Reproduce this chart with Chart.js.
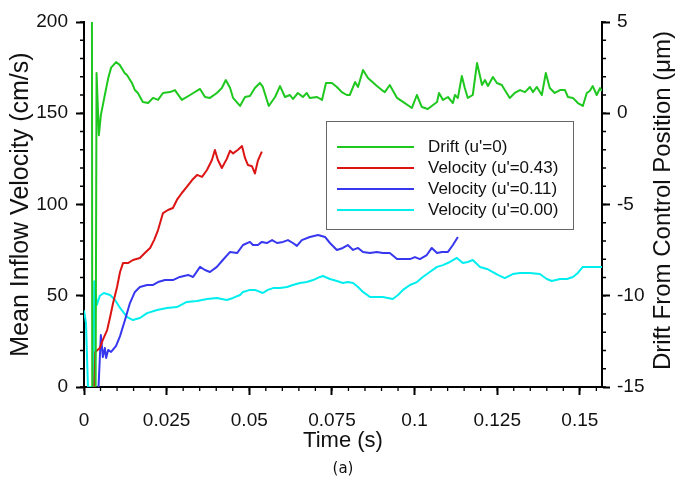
<!DOCTYPE html>
<html>
<head>
<meta charset="utf-8">
<script src="https://cdn.jsdelivr.net/npm/chart.js@4.4.1/dist/chart.umd.min.js"></script>
<style>
  body { margin: 0; background: #fff; }
  #wrap { width: 681px; height: 477px; }
</style>
</head>
<body>
<div id="wrap"><canvas id="myChart" width="681" height="477"></canvas></div>
<script>

// drift of the control position (right axis, um)
let driftTime=[0.0024,0.0025,0.0035,0.0038,0.0045,0.0051,0.0063,0.0073,0.0082,0.0097,0.0108,0.0123,0.0130,0.0145,0.0154,0.0163,0.0178,0.0194,0.0209,0.0224,0.0239,0.0260,0.0275,0.0296,0.0321,0.0351,0.0366,0.0381,0.0402,0.0417,0.0429,0.0442,0.0451,0.0472,0.0487,0.0502,0.0517,0.0532,0.0541,0.0559,0.0578,0.0593,0.0608,0.0623,0.0632,0.0647,0.0662,0.0674,0.0683,0.0705,0.0720,0.0732,0.0750,0.0765,0.0780,0.0795,0.0804,0.0820,0.0829,0.0844,0.0859,0.0886,0.0901,0.0910,0.0925,0.0947,0.0965,0.0992,0.1007,0.1022,0.1040,0.1068,0.1074,0.1086,0.1101,0.1116,0.1122,0.1131,0.1143,0.1152,0.1161,0.1176,0.1189,0.1204,0.1213,0.1222,0.1237,0.1249,0.1264,0.1273,0.1288,0.1303,0.1319,0.1334,0.1349,0.1358,0.1370,0.1385,0.1397,0.1409,0.1424,0.1440,0.1455,0.1464,0.1479,0.1494,0.1509,0.1521,0.1530,0.1539,0.1551,0.1561,0.1567];
let driftVals=[6,-16,-16,2.2,-1.2,-0.1,1.0,1.9,2.5,2.8,2.65,2.2,2.1,1.66,1.27,1.11,0.62,0.56,0.84,0.73,1.11,1.16,1.27,0.73,1.0,1.33,0.89,0.84,1.11,1.38,1.82,1.38,0.84,0.4,0.89,0.95,1.38,1.66,1.44,0.4,0.89,1.49,0.89,1.0,0.78,1.11,0.89,1.11,0.84,0.89,0.73,1.66,1.66,1.44,1.16,1.0,1.0,1.71,1.44,2.37,1.93,1.49,1.27,1.16,1.55,0.84,0.62,0.29,1.0,0.34,0.23,0.62,1.11,0.73,0.89,0.56,1.0,0.84,2.04,1.38,0.84,1.0,2.75,1.55,1.82,1.49,1.99,1.66,1.55,1.27,0.84,1.11,1.27,1.16,1.44,1.16,1.44,1.0,2.21,1.38,1.11,1.27,1.27,0.89,0.84,0.56,0.4,1.11,1.22,1.49,1.0,1.38,1.22];

// velocity u'=0.43
let redTime=[0.0031,0.0034,0.0048,0.0057,0.0070,0.0079,0.0088,0.0100,0.0109,0.0118,0.0133,0.0148,0.0169,0.0184,0.0200,0.0212,0.0224,0.0239,0.0254,0.0269,0.0281,0.0296,0.0311,0.0327,0.0342,0.0357,0.0372,0.0387,0.0396,0.0405,0.0417,0.0432,0.0442,0.0451,0.0466,0.0478,0.0487,0.0496,0.0508,0.0517,0.0526,0.0538];
let redVals=[0,19.2,21.4,25.8,31.2,38.4,46,54.8,63,67.9,67.9,69.6,70.7,73.4,76.2,80.5,86,95.3,97,98.1,102.5,106.3,109.6,113.4,116.2,115.1,118.9,124.4,129.9,124.4,120,125,129.5,128,130,132,125.5,121.6,121,117,124,129];

// velocity u'=0.11
let blueTime=[0.0044,0.0048,0.0051,0.0057,0.0063,0.0067,0.0073,0.0082,0.0097,0.0109,0.0124,0.0139,0.0154,0.0169,0.0191,0.0209,0.0224,0.0245,0.0269,0.0290,0.0315,0.0330,0.0351,0.0366,0.0381,0.0402,0.0420,0.0442,0.0463,0.0481,0.0502,0.0511,0.0526,0.0538,0.0553,0.0569,0.0584,0.0602,0.0617,0.0632,0.0644,0.0659,0.0683,0.0708,0.0729,0.0744,0.0765,0.0783,0.0798,0.0814,0.0829,0.0844,0.0865,0.0886,0.0904,0.0925,0.0947,0.0965,0.0986,0.1001,0.1016,0.1037,0.1052,0.1068,0.1083,0.1101,0.1116,0.1131];
let blueVals=[0,16.4,28.5,16.4,21.4,15.9,20.3,19.2,22.5,27.9,36.7,46,52.1,54.8,55.9,55.9,57.5,58.6,58.6,60.3,61.4,60.3,65.8,64.1,63,65.8,69.6,74,73.4,77.8,79.5,77.8,77.8,79.5,78.9,80.5,78.9,79.5,80.5,78.9,77.3,80.5,82.2,83.3,82.2,78.9,75.1,76.2,77.8,75.1,76.2,74,73.4,74,73.4,73.4,70.1,70.1,70.1,71.2,70.1,72.3,76.2,73.4,74,74,77.8,82.2];

// velocity u'=0.00
let cyanTime=[0,0.0006,0.0012,0.0029,0.0031,0.0039,0.0048,0.0060,0.0079,0.0094,0.0109,0.0130,0.0148,0.0169,0.0191,0.0221,0.0251,0.0281,0.0311,0.0342,0.0372,0.0402,0.0432,0.0451,0.0472,0.0481,0.0502,0.0517,0.0541,0.0556,0.0572,0.0593,0.0614,0.0632,0.0653,0.0674,0.0693,0.0714,0.0723,0.0744,0.0765,0.0783,0.0798,0.0814,0.0829,0.0844,0.0865,0.0886,0.0904,0.0919,0.0934,0.0950,0.0965,0.0986,0.1007,0.1025,0.1046,0.1068,0.1086,0.1107,0.1128,0.1146,0.1161,0.1176,0.1198,0.1219,0.1237,0.1252,0.1273,0.1297,0.1319,0.1349,0.1379,0.1400,0.1415,0.1440,0.1461,0.1479,0.1494,0.1509,0.1530,0.1545,0.1567];
let cyanVals=[42,35,0,0,58,45,50,51.5,50.4,47.7,43.3,38.4,36.7,37.8,40.5,42.2,43.3,43.8,46.6,47.1,48.2,48.8,47.7,48.8,50.4,52.1,53.2,53.2,51.5,53.2,54.2,54.2,54.8,55.9,57,57.5,58.6,60.3,60.8,59.2,58.1,57,57.5,57,54.8,52.1,49.3,49.3,49.3,48.8,48.2,50.4,53.2,55.9,57.5,60.3,63,65.8,66.8,68.5,70.7,67.9,68.5,69.6,65.8,64.7,63,61.4,59.7,61.9,62.5,62.5,61.9,59.2,58.1,59.2,59.2,60.3,62.5,65.8,65.8,65.8,65.8];

let seriesLabels=["Drift (u'=0)","Velocity (u'=0.43)","Velocity (u'=0.11)","Velocity (u'=0.00)"];

let xTicks=[0,0.025,0.05,0.075,0.1,0.125,0.15];
let leftTicks=[0,50,100,150,200];
let rightTicks=[-15,-10,-5,0,5];

function pts(times,vals){
  let out=[];
  for(let i=0;i<Math.min(times.length,vals.length);i++){
    out.push({x:times[i],y:vals[i]});
  }
  return out;
}

const FONT="'Liberation Sans', Arial, Helvetica, sans-serif";

// minor ticks drawn outside the axes
const minorTicks={
  id:'minorTicks',
  afterDraw(chart){
    const c=chart.ctx;
    const x=chart.scales.x, yl=chart.scales.y, yr=chart.scales.y2;
    c.save();
    c.strokeStyle='#000';
    c.lineWidth=1.3;
    c.beginPath();
    for(let v=0;v<=0.1567;v+=0.005){
      let px=x.getPixelForValue(v);
      c.moveTo(px,x.top); c.lineTo(px,x.top+4);
    }
    for(let v=0;v<=200;v+=10){
      let py=yl.getPixelForValue(v);
      c.moveTo(yl.right,py); c.lineTo(yl.right-4,py);
    }
    for(let v=-15;v<=5;v+=1){
      let py=yr.getPixelForValue(v);
      c.moveTo(yr.left,py); c.lineTo(yr.left+4,py);
    }
    c.stroke();
    c.restore();
  }
};

// boxed legend inside the plot, right axis title (reads upward) and the "(a)" caption
const boxLegend={
  id:'boxLegend',
  afterDraw(chart){
    const c=chart.ctx;
    const a=chart.chartArea;
    const bx=a.left+242, by=a.top+99, bw=247, bh=108;
    c.save();
    c.fillStyle='#fff';
    c.fillRect(bx,by,bw,bh);
    c.strokeStyle='#666';
    c.lineWidth=1;
    c.strokeRect(bx+0.5,by+0.5,bw,bh);
    c.font="17px "+FONT;
    c.textBaseline='middle';
    chart.data.datasets.forEach((ds,i)=>{
      let yy=by+26+i*21;
      c.strokeStyle=ds.borderColor;
      c.lineWidth=2;
      c.beginPath();
      c.moveTo(bx+11,yy); c.lineTo(bx+88,yy);
      c.stroke();
      c.fillStyle='#111';
      c.fillText(ds.label,bx+102,yy);
    });

    const yr=chart.scales.y2;
    c.save();
    c.translate(yr.right-18,(a.top+a.bottom)/2-4);
    c.rotate(-Math.PI/2);
    c.font="24px "+FONT;
    c.textAlign='center';
    c.fillStyle='#111';
    c.fillText('Drift From Control Position (\u03bcm)',0,0);
    c.restore();

    c.font="15px 'DejaVu Sans', sans-serif";
    c.textAlign='center';
    c.fillStyle='#111';
    c.fillText('(a)',(a.left+a.right)/2,469);
    c.restore();
  }
};

const ctx=document.getElementById('myChart');

new Chart(ctx,{
  type:'line',
  data:{
    datasets:[
      {label:seriesLabels[0],data:pts(driftTime,driftVals),borderColor:'rgb(30,200,30)',yAxisID:'y2'},
      {label:seriesLabels[1],data:pts(redTime,redVals),borderColor:'rgb(220,20,20)',yAxisID:'y'},
      {label:seriesLabels[2],data:pts(blueTime,blueVals),borderColor:'rgb(55,55,240)',yAxisID:'y'},
      {label:seriesLabels[3],data:pts(cyanTime,cyanVals),borderColor:'rgb(0,238,238)',yAxisID:'y'}
    ]
  },
  options:{
    responsive:false,
    animation:false,
    layout:{padding:{top:22,left:0,right:0,bottom:0}},
    elements:{
      point:{radius:0},
      line:{borderWidth:2,tension:0,borderJoinStyle:'round',fill:false}
    },
    plugins:{legend:{display:false},tooltip:{enabled:false}},
    scales:{
      x:{
        type:'linear',
        min:0,max:0.1567,
        afterFit:s=>{s.height=90;},
        afterBuildTicks:s=>{s.ticks=xTicks.map(v=>({value:v}));},
        ticks:{
          color:'#111',padding:14,maxRotation:0,
          font:{family:FONT,size:19},
          callback:v=>String(+v.toFixed(4))
        },
        grid:{drawOnChartArea:false,tickLength:8,tickColor:'#000',tickWidth:2},
        border:{display:true,color:'#000',width:2},
        title:{display:true,text:'Time (s)',color:'#111',font:{family:FONT,size:22},padding:{top:0,bottom:23}}
      },
      y:{
        position:'left',
        min:0,max:200,
        afterFit:s=>{s.width=84;},
        afterBuildTicks:s=>{s.ticks=leftTicks.map(v=>({value:v}));},
        ticks:{color:'#111',padding:8,font:{family:FONT,size:19}},
        grid:{drawOnChartArea:false,tickLength:8,tickColor:'#000',tickWidth:2},
        border:{display:true,color:'#000',width:2},
        title:{display:true,text:'Mean Inflow Velocity (cm/s)',color:'#111',font:{family:FONT,size:25},padding:{top:6,bottom:0}}
      },
      y2:{
        position:'right',
        min:-15,max:5,
        afterFit:s=>{s.width=79;},
        afterBuildTicks:s=>{s.ticks=rightTicks.map(v=>({value:v}));},
        ticks:{color:'#111',padding:7,font:{family:FONT,size:19}},
        grid:{drawOnChartArea:false,tickLength:8,tickColor:'#000',tickWidth:2},
        border:{display:true,color:'#000',width:2},
        title:{display:false}
      }
    }
  },
  plugins:[minorTicks,boxLegend]
});
</script>
</body>
</html>
